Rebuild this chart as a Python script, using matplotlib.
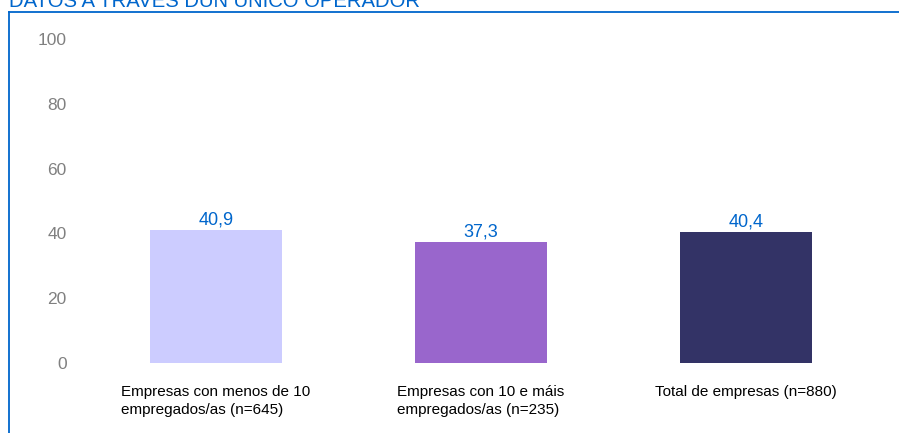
import matplotlib
matplotlib.use("Agg")
import matplotlib.pyplot as plt
from matplotlib.lines import Line2D

plt.rcParams["font.family"] = ["Liberation Sans", "DejaVu Sans"]

# datos
title = "DATOS A TRAVÉS DUN ÚNICO OPERADOR"
categories = [
    "Empresas con menos de 10\nempregados/as (n=645)",
    "Empresas con 10 e máis\nempregados/as (n=235)",
    "Total de empresas (n=880)",
]
values = [40.9, 37.3, 40.4]
bar_colors = ["#CCCCFF", "#9966CC", "#333366"]
y_ticks = [0, 20, 40, 60, 80, 100]

W, H = 899, 433
fig = plt.figure(figsize=(W / 100, H / 100), dpi=100)

# marco azul (arriba e esquerda)
blue = "#0066CC"
fig.add_artist(Line2D([9 / W, 9 / W], [0, 1 - 12 / H], transform=fig.transFigure,
                      color=blue, lw=1.3))
fig.add_artist(Line2D([9 / W, 1], [1 - 12 / H, 1 - 12 / H], transform=fig.transFigure,
                      color=blue, lw=1.3))

# título recortado na parte superior
fig.text(9 / W, 1 - 7 / H, title, color=blue, fontsize=14.6, ha="left", va="baseline")

ax = fig.add_axes([83.5 / W, (H - 363) / H, 795 / W, 324 / H])
x = [i + 0.5 for i in range(len(values))]
ax.bar(x, values, width=0.5, color=bar_colors)

for xi, v in zip(x, values):
    ax.text(xi, v + 0.6, f"{v:.1f}".replace(".", ","), ha="center", va="bottom",
            color=blue, fontsize=13)

ax.set_xlim(0, 3)
ax.set_ylim(0, 100)
ax.set_yticks(y_ticks)
ax.set_yticklabels([str(t) for t in y_ticks], color="#808080", fontsize=12.5)
ax.set_xticks(x)
ax.set_xticklabels(categories, fontsize=11, color="black", linespacing=1.3)
for lbl in ax.get_xticklabels():
    lbl.set_multialignment("left")
ax.tick_params(axis="y", length=0, pad=12)
ax.tick_params(axis="x", length=0, pad=16)
for s in ax.spines.values():
    s.set_visible(False)

fig.savefig("out.png", dpi=100)
